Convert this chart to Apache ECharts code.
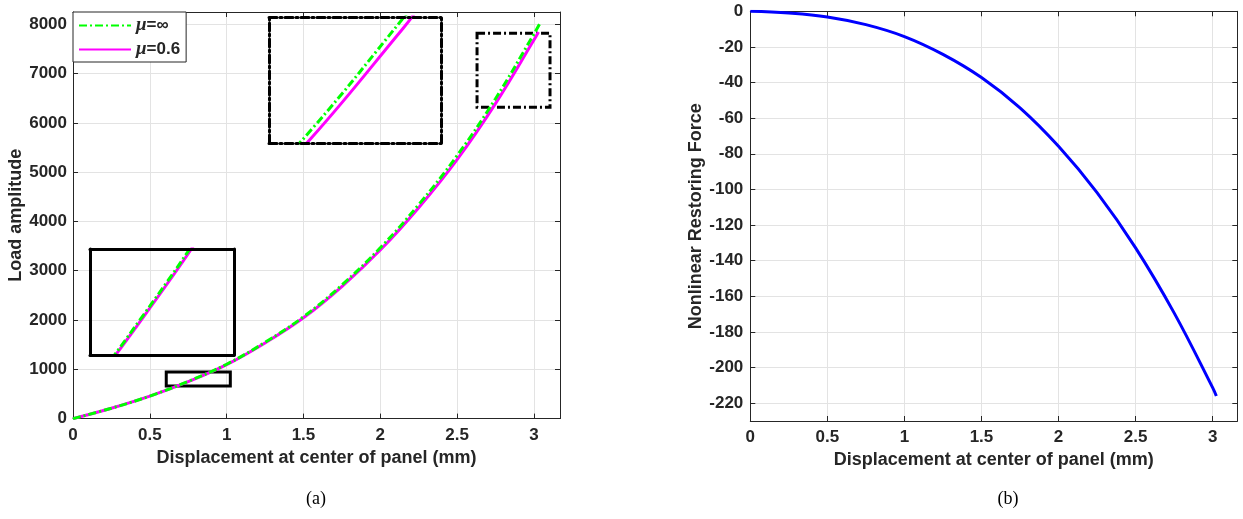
<!DOCTYPE html>
<html>
<head>
<meta charset="utf-8">
<script src="https://cdn.jsdelivr.net/npm/echarts@6/dist/echarts.min.js"></script>
<style>
  html, body { margin: 0; padding: 0; background: #fff; }
  #chart { width: 1243px; height: 519px; }
</style>
</head>
<body>
<div id="chart"></div>
<script>
// (a) load amplitude vs displacement (mm)
const dispInf = [0, 0.25, 0.5, 0.75, 1.0, 1.25, 1.5, 1.75, 2.0, 2.25, 2.5, 2.75, 3.0, 3.045];
const loadInf = [0, 211, 457, 755, 1103, 1548, 2065, 2710, 3465, 4340, 5335, 6490, 7800, 8050];
const disp06 = [0, 0.25, 0.5, 0.75, 1.0, 1.25, 1.5, 1.75, 2.0, 2.25, 2.5, 2.75, 3.0, 3.03];
const load06 = [0, 210, 455, 750, 1095, 1535, 2045, 2680, 3420, 4280, 5255, 6390, 7680, 7845];

// zoomed windows shown in the insets
const boxTopX = [2.63, 3.105];
const boxTopY = [6316, 7817];
const boxLowX = [0.607, 1.024];
const boxLowY = [663, 947];

// (b) nonlinear restoring force vs displacement
const dispB = [0, 0.25, 0.5, 0.75, 1.0, 1.25, 1.5, 1.75, 2.0, 2.25, 2.5, 2.75, 3.0, 3.024];
const forceB = [0, -1, -3.2, -7.5, -14.2, -24.2, -37.2, -54.2, -75.8, -101.8, -132.8, -169.3, -211.3, -216];

const nameInf = 'μ=∞';
const name06 = 'μ=0.6';

const ink = '#262626';
const font = 'Liberation Sans, Arial, sans-serif';
const dashDot = [8, 3, 2, 3];
const smooth = 0.4;

const pairs = (xs, ys) => xs.map((x, i) => [x, ys[i]]);

const chart = echarts.init(document.getElementById('chart'));

const tickLabel = { show: true, fontFamily: font, fontWeight: 'bold', fontSize: 17, color: ink, formatter: v => String(v) };

function frameAxis(grid, pos, ext) {
  return Object.assign({
    type: 'value', gridIndex: grid, position: pos,
    axisLine: { onZero: false, lineStyle: { color: ink, width: 1 } },
    axisTick: { inside: true, length: 5, lineStyle: { color: ink } },
    axisLabel: { show: false },
    splitLine: { show: false }
  }, ext);
}

function mainAxis(grid, pos, ext) {
  return frameAxis(grid, pos, Object.assign({
    nameLocation: 'middle',
    nameTextStyle: { fontFamily: font, fontWeight: 'bold', fontSize: 18, color: ink },
    axisLabel: Object.assign({ showMaxLabel: false }, tickLabel),
    splitLine: { show: true, lineStyle: { color: '#e3e3e3', width: 1 } }
  }, ext));
}

function insetAxis(grid, pos, range, dash) {
  return {
    type: 'value', gridIndex: grid, position: pos, min: range[0], max: range[1], z: 5,
    axisLine: { onZero: false, lineStyle: { color: '#000', width: 3, type: dash } },
    axisTick: { show: false }, axisLabel: { show: false }, splitLine: { show: false }
  };
}

const xTicks = { min: 0, interval: 0.5 };
const yTicksB = { min: -230, max: 0, splitNumber: 11 };

const option = {
  animation: false,
  title: [
    { text: '(a)', left: 311, top: 485, textAlign: 'center',
      textStyle: { fontFamily: 'Liberation Serif', fontWeight: 'normal', fontSize: 18, color: '#000' } },
    { text: '(b)', left: 1003, top: 485, textAlign: 'center',
      textStyle: { fontFamily: 'Liberation Serif', fontWeight: 'normal', fontSize: 18, color: '#000' } }
  ],
  legend: {
    data: [nameInf, name06],
    orient: 'vertical', left: 73, top: 12,
    padding: [4, 6, 3, 5], itemGap: 5, itemWidth: 52, itemHeight: 16,
    borderColor: ink, borderWidth: 1, borderRadius: 0, backgroundColor: '#fff',
    itemStyle: { color: 'rgba(0,0,0,0)', borderWidth: 0, opacity: 0 },
    formatter: n => '{m|μ}{t|' + n.slice(1) + '}',
    textStyle: {
      rich: {
        m: { fontFamily: 'Liberation Serif', fontStyle: 'italic', fontWeight: 'bold', fontSize: 19, color: ink },
        t: { fontFamily: font, fontWeight: 'bold', fontSize: 17, color: ink }
      }
    }
  },
  grid: [
    { left: 73, top: 12, width: 487, height: 406.6 },
    { left: 750.3, top: 11.3, width: 487, height: 409.7 },
    { left: 269, top: 17, width: 172, height: 126, show: true, backgroundColor: '#fff', borderWidth: 0 },
    { left: 90, top: 249, width: 144, height: 106, show: true, backgroundColor: '#fff', borderWidth: 0 }
  ],
  xAxis: [
    mainAxis(0, 'bottom', Object.assign({ max: 3.17, name: 'Displacement at center of panel (mm)', nameGap: 30 }, xTicks)),
    frameAxis(0, 'top', Object.assign({ max: 3.17 }, xTicks)),
    mainAxis(1, 'bottom', Object.assign({ max: 3.16, name: 'Displacement at center of panel (mm)', nameGap: 30 }, xTicks)),
    frameAxis(1, 'top', Object.assign({ max: 3.16 }, xTicks)),
    insetAxis(2, 'bottom', boxTopX, dashDot),
    insetAxis(2, 'top', boxTopX, dashDot),
    insetAxis(3, 'bottom', boxLowX, 'solid'),
    insetAxis(3, 'top', boxLowX, 'solid')
  ],
  yAxis: [
    mainAxis(0, 'left', { min: 0, max: 8250, interval: 1000, name: 'Load amplitude', nameGap: 45,
      axisLabel: Object.assign({}, tickLabel, { margin: 6, showMaxLabel: false }) }),
    frameAxis(0, 'right', { min: 0, max: 8250, interval: 1000 }),
    mainAxis(1, 'left', Object.assign({ name: 'Nonlinear Restoring Force', nameGap: 41,
      axisLabel: Object.assign({}, tickLabel, { margin: 7, showMinLabel: false }) }, yTicksB)),
    frameAxis(1, 'right', Object.assign({}, yTicksB)),
    insetAxis(2, 'left', boxTopY, dashDot),
    insetAxis(2, 'right', boxTopY, dashDot),
    insetAxis(3, 'left', boxLowY, 'solid'),
    insetAxis(3, 'right', boxLowY, 'solid')
  ],
  series: [
    {
      name: nameInf, type: 'line', xAxisIndex: 0, yAxisIndex: 0, z: 4,
      data: pairs(dispInf, loadInf), smooth: smooth, symbol: 'none',
      lineStyle: { color: '#00ff00', width: 3, type: dashDot }, itemStyle: { color: '#00ff00' },
      markArea: {
        silent: true,
        data: [[
          { coord: [boxTopX[0], boxTopY[1]], itemStyle: { color: 'rgba(0,0,0,0)', borderColor: '#000', borderWidth: 3, borderType: dashDot } },
          { coord: [boxTopX[1], boxTopY[0]] }
        ]]
      }
    },
    {
      name: name06, type: 'line', xAxisIndex: 0, yAxisIndex: 0, z: 3,
      data: pairs(disp06, load06), smooth: smooth, symbol: 'none',
      lineStyle: { color: '#ff00ff', width: 3 }, itemStyle: { color: '#ff00ff' },
      markArea: {
        silent: true,
        data: [[
          { coord: [boxLowX[0], boxLowY[1]], itemStyle: { color: 'rgba(0,0,0,0)', borderColor: '#000', borderWidth: 3 } },
          { coord: [boxLowX[1], boxLowY[0]] }
        ]]
      }
    },
    {
      name: 'restoring', type: 'line', xAxisIndex: 2, yAxisIndex: 2,
      data: pairs(dispB, forceB), smooth: smooth, symbol: 'none',
      lineStyle: { color: '#0000ff', width: 3 }
    },
    // inset copies of the same curves
    {
      name: nameInf, type: 'line', xAxisIndex: 4, yAxisIndex: 4, z: 4, clip: true,
      data: pairs(dispInf, loadInf), smooth: smooth, symbol: 'none',
      lineStyle: { color: '#00ff00', width: 3, type: dashDot }
    },
    {
      name: name06, type: 'line', xAxisIndex: 4, yAxisIndex: 4, z: 3, clip: true,
      data: pairs(disp06, load06), smooth: smooth, symbol: 'none',
      lineStyle: { color: '#ff00ff', width: 3 }
    },
    {
      name: nameInf, type: 'line', xAxisIndex: 6, yAxisIndex: 6, z: 4, clip: true,
      data: pairs(dispInf, loadInf), smooth: smooth, symbol: 'none',
      lineStyle: { color: '#00ff00', width: 3, type: dashDot }
    },
    {
      name: name06, type: 'line', xAxisIndex: 6, yAxisIndex: 6, z: 3, clip: true,
      data: pairs(disp06, load06), smooth: smooth, symbol: 'none',
      lineStyle: { color: '#ff00ff', width: 3 }
    }
  ]
};

chart.setOption(option);
</script>
</body>
</html>
